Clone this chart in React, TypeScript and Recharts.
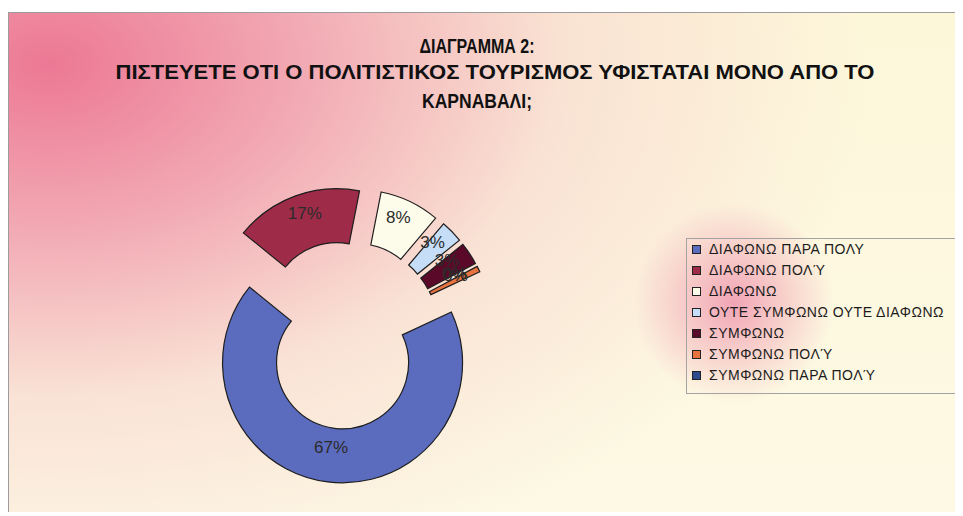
import React from "react";
import { PieChart, Pie, Cell, Sector, Legend } from "recharts";

// answers, in the order of the legend
const categories = [
  "ΔΙΑΦΩΝΩ ΠΑΡΑ ΠΟΛΥ",
  "ΔΙΑΦΩΝΩ ΠΟΛΎ",
  "ΔΙΑΦΩΝΩ",
  "ΟΥΤΕ ΣΥΜΦΩΝΩ ΟΥΤΕ ΔΙΑΦΩΝΩ",
  "ΣΥΜΦΩΝΩ",
  "ΣΥΜΦΩΝΩ ΠΟΛΎ",
  "ΣΥΜΦΩΝΩ ΠΑΡΑ ΠΟΛΎ",
];
const shares = [67, 17, 8, 3, 3, 0.8, 0];
const shareLabels = ["67%", "17%", "8%", "3%", "3%", "0%", "0%"];
const colors = ["#5b6cbf", "#9e2b48", "#fdfbea", "#c6ddf7", "#5a0a28", "#e8733f", "#2f4a8f"];

const titleLines = [
  "ΔΙΑΓΡΑΜΜΑ 2:",
  "ΠΙΣΤΕΥΕΤΕ ΟΤΙ Ο ΠΟΛΙΤΙΣΤΙΚΟΣ ΤΟΥΡΙΣΜΟΣ ΥΦΙΣΤΑΤΑΙ ΜΟΝΟ ΑΠΟ ΤΟ",
  "ΚΑΡΝΑΒΑΛΙ;",
];

const data = categories.map((name, i) => ({ name, value: shares[i], label: shareLabels[i] }));

const RAD = Math.PI / 180;
const EXPLODE = 28;
const FONT = '"Liberation Sans", Arial, sans-serif';

const renderSlice = (props: any) => {
  if (props.startAngle === props.endAngle) return <g />;
  const dx = EXPLODE * Math.cos(-props.midAngle * RAD);
  const dy = EXPLODE * Math.sin(-props.midAngle * RAD);
  return <Sector {...props} cx={props.cx + dx} cy={props.cy + dy} />;
};

const renderLabel = (props: any) => {
  const { cx, cy, midAngle, innerRadius, outerRadius, index } = props;
  const r = (innerRadius + outerRadius) / 2 + EXPLODE;
  const x = cx + r * Math.cos(-midAngle * RAD);
  const y = cy + r * Math.sin(-midAngle * RAD) - 8;
  return (
    <text x={x} y={y} textAnchor="middle" dominantBaseline="central" fill="#2b2b2b" fontSize={17} fontFamily={FONT}>
      {data[index].label}
    </text>
  );
};

const renderLegend = (props: any) => {
  const items = [...(props.payload || [])].sort(
    (a: any, b: any) => categories.indexOf(a.value) - categories.indexOf(b.value)
  );
  return (
    <div
      style={{
        width: 300,
        height: 156,
        borderTop: "1px solid #a3a3a3",
        borderLeft: "1px solid #a3a3a3",
        borderBottom: "1px solid #a3a3a3",
        boxSizing: "border-box",
        fontFamily: FONT,
        fontSize: 14,
        letterSpacing: 0.5,
        color: "#1c1c1c",
      }}
    >
      {items.map((p: any, i: number) => (
        <div key={i} style={{ height: 21, lineHeight: "21px", display: "flex", alignItems: "center", whiteSpace: "nowrap" }}>
          <span
            style={{
              display: "inline-block",
              width: 7,
              height: 7,
              marginLeft: 5,
              marginRight: 8,
              background: p.color,
              border: "1px solid #222",
            }}
          />
          {p.value}
        </div>
      ))}
    </div>
  );
};

export default function App() {
  return (
    <div
      style={{
        position: "relative",
        top: 4,
        width: 955,
        height: 504,
        borderTop: "1px solid #9c9c9c",
        borderLeft: "1px solid #9c9c9c",
        boxSizing: "border-box",
        overflow: "hidden",
        background:
          "radial-gradient(circle at 725px 290px, rgba(234,112,155,0.6), rgba(240,160,180,0) 100px)," +
          "radial-gradient(ellipse 820px 540px at 40px 50px, rgba(236,116,146,0.97) 0%, rgba(239,150,170,0.78) 32%, rgba(245,200,200,0.45) 62%, rgba(252,238,218,0) 100%)," +
          "linear-gradient(#fdf7da, #fdf9e4)",
      }}
    >
      <svg width={954} height={120} style={{ position: "absolute", left: 0, top: 0 }}>
        {titleLines.map((t, i) => (
          <text
            key={i}
            x={[468, 486, 468][i]}
            y={[32, 58, 87][i]}
            textAnchor="middle"
            dominantBaseline="central"
            fontFamily={FONT}
            fontWeight="bold"
            fontSize={21}
            fill="#111"
            textLength={[115, 759, 110][i]}
            lengthAdjust="spacingAndGlyphs"
          >
            {t}
          </text>
        ))}
      </svg>
      <PieChart width={954} height={503} style={{ position: "absolute", left: 0, top: 0 }}>
        <Pie
          data={data}
          dataKey="value"
          nameKey="name"
          cx={332}
          cy={317}
          innerRadius={66}
          outerRadius={120}
          startAngle={25}
          endAngle={-335}
          stroke="#1e1e1e"
          strokeWidth={1.2}
          shape={renderSlice}
          label={renderLabel}
          labelLine={false}
          isAnimationActive={false}
        >
          {data.map((d, i) => (
            <Cell key={d.name} fill={colors[i]} />
          ))}
        </Pie>
        <Legend
          layout="vertical"
          content={renderLegend}
          wrapperStyle={{ position: "absolute", left: 677, top: 225, width: 300 }}
        />
      </PieChart>
    </div>
  );
}
